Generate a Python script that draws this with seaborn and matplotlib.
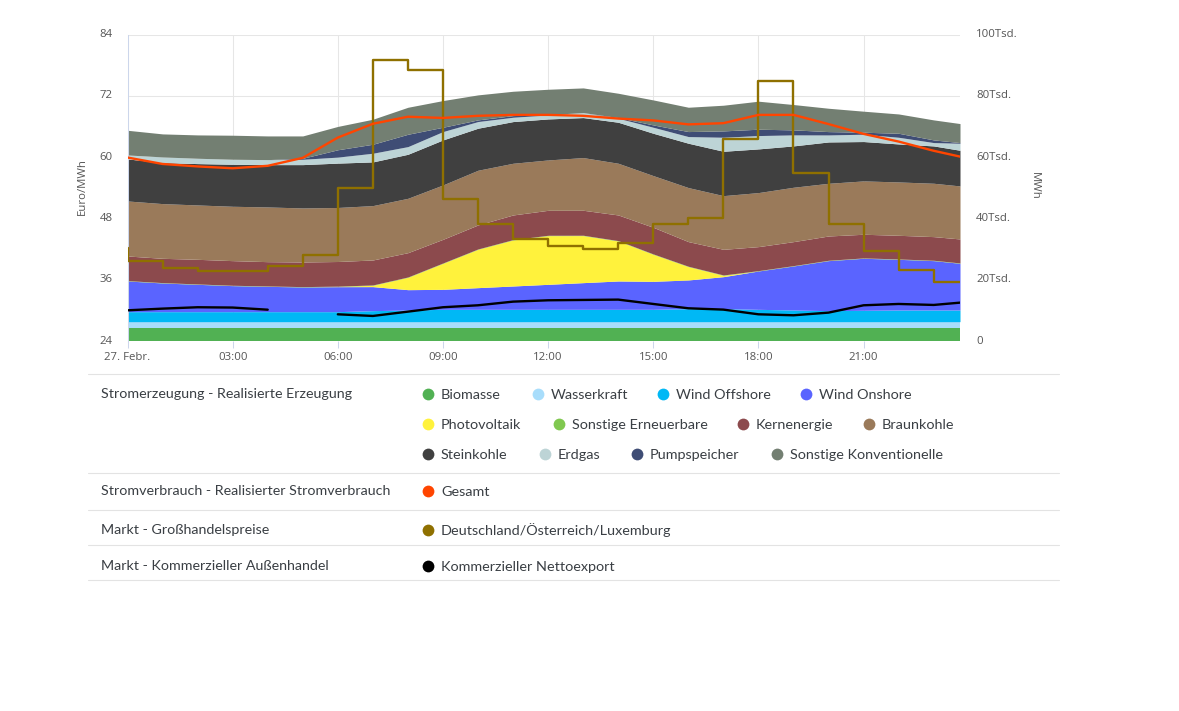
import numpy as np
import pandas as pd
import seaborn as sns
import matplotlib.pyplot as plt
from matplotlib.transforms import ScaledTranslation

hours = list(range(24)) + [23.75]

# generation in thousand MWh
biomasse = [4.45] * 25
wasserkraft = [1.95] * 25
offshore = [3.26, 3.26, 3.26, 3.26, 3.26, 3.26, 3.26, 3.59, 3.80, 4.02, 4.02, 4.02, 4.02, 4.02, 4.02, 4.02, 4.24, 4.24, 4.02, 3.80, 3.59, 3.70, 3.80, 3.80, 3.80]
onshore = [10.0, 9.35, 8.91, 8.48, 8.26, 8.04, 8.15, 7.83, 6.63, 6.52, 7.07, 7.61, 8.15, 8.70, 9.24, 9.13, 9.35, 10.43, 12.5, 14.35, 16.3, 16.96, 16.52, 16.09, 15.22]
solar = [0, 0, 0, 0, 0, 0, 0.05, 0.43, 4.02, 8.48, 12.5, 15.0, 15.87, 15.33, 13.04, 8.8, 4.35, 0.43, 0, 0, 0, 0, 0, 0, 0]
erneuerbare = [0.12] * 25
kern = [8.03, 7.92, 8.03, 8.03, 7.92, 8.03, 8.03, 8.14, 7.92, 7.71, 7.82, 8.03, 8.14, 8.14, 8.36, 8.68, 8.03, 8.36, 7.82, 7.82, 7.92, 7.71, 7.71, 7.71, 7.82]
braunkohle = [17.93, 17.83, 17.72, 17.72, 17.83, 17.61, 17.61, 17.72, 17.72, 17.72, 17.83, 16.85, 16.41, 17.17, 16.85, 16.85, 17.61, 17.5, 17.61, 17.72, 17.17, 17.39, 17.39, 17.39, 17.28]
steinkohle = [13.7, 13.37, 13.48, 13.7, 13.8, 14.13, 14.46, 14.24, 14.35, 14.67, 13.7, 13.59, 13.37, 13.04, 13.37, 13.8, 14.46, 14.46, 14.24, 13.48, 13.48, 12.83, 12.39, 12.17, 11.63]
erdgas = [1.3, 1.85, 1.74, 1.63, 1.63, 1.74, 1.96, 2.83, 2.5, 2.72, 2.17, 1.41, 1.3, 1.63, 1.3, 1.96, 2.17, 4.57, 4.35, 3.59, 2.28, 2.39, 2.17, 1.09, 2.28]
pumpspeicher = [0, 0, 0, 0, 0, 0.33, 2.39, 2.93, 4.02, 1.41, 0.54, 0.54, 0.11, 0, 0.22, 0.76, 1.63, 2.07, 2.07, 1.63, 1.09, 0.65, 1.3, 0.87, 0.22]
konventionelle = [8.04, 7.5, 7.61, 7.83, 7.72, 7.28, 7.61, 8.15, 8.8, 8.7, 8.15, 7.93, 8.26, 8.04, 7.93, 8.15, 7.93, 8.37, 9.13, 8.26, 7.61, 6.85, 6.3, 6.52, 6.2]

gesamt = [59.9, 57.8, 57.0, 56.4, 57.2, 59.8, 66.4, 70.9, 73.2, 72.8, 73.5, 73.8, 73.8, 73.5, 72.6, 72.0, 70.7, 71.1, 73.8, 73.8, 70.8, 67.6, 65.1, 62.1, 60.2]
export = [10.1, 10.65, 11.1, 11.0, 10.3, np.nan, 8.8, 8.26, 9.67, 11.1, 11.74, 12.93, 13.37, 13.48, 13.59, 12.17, 10.76, 10.33, 8.8, 8.48, 9.35, 11.74, 12.17, 11.85, 12.6]

# wholesale price, Euro/MWh; the first value is from the day before
price_hours = [-1] + hours
price = [42.2, 39.8, 38.3, 37.7, 37.7, 38.7, 40.8, 54.0, 79.0, 77.0, 51.8, 47.0, 44.0, 42.7, 42.0, 43.3, 47.0, 48.2, 63.6, 75.0, 57.0, 47.0, 41.7, 38.0, 35.5, 35.5]

stack_colors = ['#51b153', '#a8ddfb', '#00b8f5', '#5a64ff', '#fff23c', '#80c850',
                '#8c4a4d', '#9a7a5a', '#404040', '#bdd4d6', '#3f4d75', '#737f72']
x_ticks = [0, 3, 6, 9, 12, 15, 18, 21]
x_labels = ['27. Febr.', '03:00', '06:00', '09:00', '12:00', '15:00', '18:00', '21:00']
mwh_ticks = [0, 20, 40, 60, 80, 100]
mwh_labels = ['0', '20Tsd.', '40Tsd.', '60Tsd.', '80Tsd.', '100Tsd.']
euro_ticks = [24, 36, 48, 60, 72, 84]

sns.set_style('white')
plt.rcParams['font.family'] = ['Open Sans', 'DejaVu Sans']
W, H = 1179, 711
fig = plt.figure(figsize=(W / 100, H / 100), dpi=100)
ax = fig.add_axes([127.5 / W, 1 - 341.3 / H, 832.5 / W, 306.8 / H])

grid = '#e6e6e6'
tick_col = '#555555'
ax.stackplot(hours, biomasse, wasserkraft, offshore, onshore, solar, erneuerbare, kern, braunkohle,
             steinkohle, erdgas, pumpspeicher, konventionelle, colors=stack_colors, linewidth=0, zorder=2)
ax.set_xlim(0, 23.75)
ax.set_ylim(0, 100)
ax.set_xticks(x_ticks)
ax.set_xticklabels(x_labels, fontsize=8.2, color=tick_col)
ax.grid(True, color=grid, linewidth=0.75, zorder=0)
ax.set_axisbelow(True)
ax.tick_params(axis='x', length=5, width=0.75, color='#ccd6eb', pad=3, bottom=True)
for s in ['right', 'top', 'bottom']:
    ax.spines[s].set_visible(False)
ax.spines['left'].set_color('#ccd6eb')
ax.spines['left'].set_linewidth(0.75)

ax2 = ax.twinx()
price_df = pd.DataFrame({'hour': price_hours, 'price': price})
sns.lineplot(data=price_df, x='hour', y='price', drawstyle='steps-post', color='#8f7000', linewidth=1.7,
             estimator=None, errorbar=None, ax=ax2)
df = pd.DataFrame({'hour': hours, 'gesamt': gesamt, 'export': export})
ax2.set_xlim(0, 23.75)
ax2.set_ylim(24, 84)
ax2.yaxis.tick_left()
ax2.set_yticks(euro_ticks)
ax2.set_yticklabels([str(t) for t in euro_ticks], fontsize=8.2, color=tick_col)
ax2.tick_params(axis='y', length=0, pad=10.5)
ax2.set_xlabel('')
ax2.yaxis.set_label_position('left')
ax2.set_ylabel('Euro/MWh', fontsize=8.2, color=tick_col)
ax2.yaxis.set_label_coords(-0.047, 0.505)
for s in ax2.spines.values():
    s.set_visible(False)

# lines in MWh go on a third overlay so they sit above the price steps
ax3 = ax.twinx()
sns.lineplot(data=df, x='hour', y='gesamt', color='#ff4500', linewidth=1.7, estimator=None, errorbar=None, ax=ax3)
sns.lineplot(data=df[df.hour < 5], x='hour', y='export', color='black', linewidth=1.7, estimator=None, errorbar=None, ax=ax3)
sns.lineplot(data=df[df.hour > 5], x='hour', y='export', color='black', linewidth=1.7, estimator=None, errorbar=None, ax=ax3)
ax3.set_xlim(0, 23.75)
ax3.set_ylim(0, 100)
ax3.set_xlabel('')
ax3.set_ylabel('')
ax3.set_yticks([])
for s in ax3.spines.values():
    s.set_visible(False)

# twinx moved the MWh ticks to the left, put them back
ax.yaxis.tick_right()
ax.set_yticks(mwh_ticks)
ax.set_yticklabels(mwh_labels, fontsize=8.2, color=tick_col)
ax.tick_params(axis='y', length=0, pad=11.5)
ax.yaxis.set_label_position('right')
ax.set_ylabel('MWh', fontsize=8.2, color=tick_col, rotation=270)
ax.yaxis.set_label_coords(1.0955, 0.505)

# y labels sit a little above their gridlines
nudge = ScaledTranslation(0, 1.7 / 100, fig.dpi_scale_trans)
for lbl in ax.get_yticklabels() + ax2.get_yticklabels():
    lbl.set_transform(lbl.get_transform() + nudge)

# legend table below the chart, in pixel coordinates
leg = fig.add_axes([0, 0, 1, 1])
leg.set_xlim(0, W)
leg.set_ylim(H, 0)
leg.axis('off')
leg.patch.set_alpha(0)

rules = [374, 473, 510, 545, 580]
for r in rules:
    leg.plot([88, 1059], [r, r], color='#e3e3e3', linewidth=0.8)

row_titles = [('Stromerzeugung - Realisierte Erzeugung', 394), ('Stromverbrauch - Realisierter Stromverbrauch', 491),
              ('Markt - Großhandelspreise', 530), ('Markt - Kommerzieller Außenhandel', 566)]
for t, y in row_titles:
    leg.text(101, y, t, fontsize=10.3, family='Lato', color='#3a3f44', va='center')

entries = [('Biomasse', 0, 428, 394), ('Wasserkraft', 1, 538, 394), ('Wind Offshore', 2, 663, 394), ('Wind Onshore', 3, 806, 394),
           ('Photovoltaik', 4, 428, 424), ('Sonstige Erneuerbare', 5, 559, 424), ('Kernenergie', 6, 743, 424), ('Braunkohle', 7, 869, 424),
           ('Steinkohle', 8, 428, 454), ('Erdgas', 9, 545, 454), ('Pumpspeicher', 10, 637, 454), ('Sonstige Konventionelle', 11, 777, 454)]
for name, i, x, y in entries:
    leg.scatter([x], [y], s=72, color=stack_colors[i], linewidths=0)
    leg.text(x + 13, y + 1, name, fontsize=10.4, family='Lato', color='#3a3f44', va='center')

extra = [('Gesamt', '#ff4500', 491, 492), ('Deutschland/Österreich/Luxemburg', '#8f7000', 530, 530), ('Kommerzieller Nettoexport', '#000000', 566, 567)]
for name, c, y, ty in extra:
    leg.scatter([428], [y], s=72, color=c, linewidths=0)
    leg.text(441, ty, name, fontsize=10.4, family='Lato', color='#3a3f44', va='center')

fig.savefig('out.png', dpi=100)
